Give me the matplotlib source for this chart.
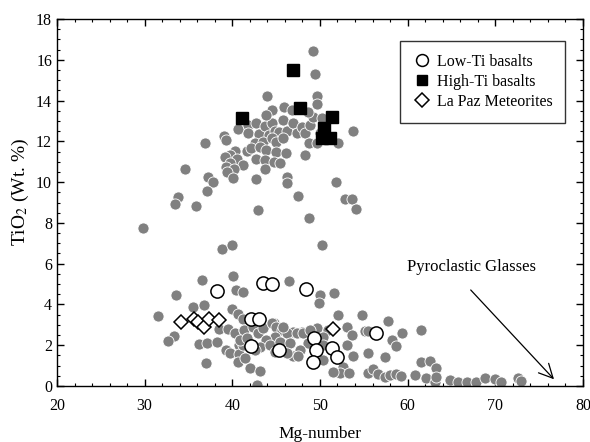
import matplotlib
matplotlib.use("Agg")
import matplotlib.pyplot as plt
from matplotlib.ticker import MultipleLocator

plt.rcParams['font.family'] = ['Liberation Serif', 'DejaVu Serif']
plt.rcParams['mathtext.fontset'] = 'stix'

# Gray background data (all lunar samples): Mg-number, TiO2
gray_mg = [
    49.23, 49.42, 43.91, 49.61, 49.61,
    36.87, 34.59, 37.25, 37.75, 37.14, 33.76, 33.45, 35.88, 29.84, 42.88, 48.73, 47.44,
    46.19, 46.19, 42.73, 51.81, 52.88, 53.67, 54.13, 53.79, 52.08, 48.28,
    39.04, 39.27, 40.67, 41.81, 41.81, 42.76, 43.07, 43.71, 44.21, 44.48, 44.85, 45.35,
    45.80, 46.19, 46.87, 47.40, 47.90, 48.28, 48.92, 49.15, 50.18, 48.77, 49.61, 49.99,
    44.48, 45.88, 46.76, 48.66, 43.90, 42.57, 43.52, 44.48, 45.04, 45.80, 41.62, 42.19,
    43.14, 43.90, 44.97, 46.07, 40.29, 39.72, 39.15, 40.48, 39.72, 41.24, 42.76, 43.71,
    44.74, 45.42, 39.27, 40.22, 39.34, 43.71, 40.10,
    38.85, 39.95, 36.49, 33.57, 40.10, 40.41, 41.17, 31.48, 35.47, 36.80, 39.91, 40.60,
    33.34, 32.62, 36.19, 37.10, 38.28, 39.23, 39.72, 40.79, 40.79, 40.67, 36.95, 38.47,
    39.53, 40.29, 41.32, 42.00,
    46.45, 49.99, 49.87, 43.14, 42.84, 44.78, 45.81, 46.95, 47.90, 49.61, 50.94,
    50.18, 51.63, 52.08, 54.82, 57.71, 59.31, 58.17, 58.66, 57.40, 53.79, 55.43, 55.12,
    55.50, 53.11, 53.60, 53.03, 52.65, 52.27, 53.34, 51.44, 50.37, 50.37,
    55.50, 56.07, 56.64, 57.40, 57.97, 58.73, 59.23,
    41.25, 41.33, 41.25, 41.44, 42.39, 42.96, 43.53, 44.48, 44.97, 45.62, 46.19, 44.86,
    43.83, 43.15, 44.29, 45.43, 46.57, 47.33, 48.09, 48.66, 47.71, 46.95, 47.52, 46.19,
    48.85, 49.61, 50.37, 44.86, 42.58, 45.81, 40.87, 41.63,
    61.51, 61.51, 62.53, 63.22, 60.82, 62.15, 63.10, 63.29,
    64.81, 65.77, 66.72, 67.78, 68.88, 69.95, 70.71, 72.61, 72.99,
]
gray_ti = [
    16.43, 15.32, 14.24, 14.24, 13.82,
    11.94, 10.63, 10.27, 10.02, 9.58, 9.26, 8.91, 8.83, 7.77, 8.63, 8.23, 9.32,
    10.24, 9.94, 10.14, 10.02, 9.16, 9.16, 8.67, 12.53, 11.94, 11.33,
    12.26, 12.07, 12.59, 12.80, 12.40, 12.92, 12.36, 12.75, 12.30, 12.89, 12.53, 12.48,
    13.05, 12.53, 12.92, 12.43, 12.72, 12.40, 12.80, 13.18, 13.13, 11.90, 11.90, 12.40,
    13.54, 13.67, 13.54, 13.46, 13.29, 11.90, 11.99, 12.15, 11.99, 12.15, 11.54, 11.66,
    11.74, 11.58, 11.50, 11.45, 11.54, 11.33, 11.25, 11.12, 10.96, 10.84, 11.12, 11.09,
    11.01, 10.92, 10.76, 10.63, 10.51, 10.63, 10.19,
    6.70, 6.90, 5.20, 4.46, 5.39, 4.71, 4.59, 3.43, 3.89, 3.99, 3.76, 3.51,
    2.45, 2.19, 2.06, 2.09, 2.16, 1.76, 1.60, 2.01, 1.57, 1.16, 1.14, 2.79,
    2.78, 2.61, 2.74, 0.88,
    5.17, 4.46, 4.05, 0.75, 0.05, 3.11, 2.91, 2.66, 2.66, 2.86, 2.75,
    6.91, 4.58, 3.48, 3.48, 3.20, 2.61, 2.25, 1.98, 1.44, 1.49, 1.63, 2.71,
    2.71, 2.91, 2.50, 2.01, 0.95, 0.65, 0.65, 0.70, 1.27, 2.42,
    0.62, 0.82, 0.59, 0.46, 0.54, 0.59, 0.49,
    3.27, 2.75, 2.01, 1.36, 2.91, 2.58, 2.83, 3.07, 2.88, 2.75, 2.58, 2.42,
    2.25, 1.93, 2.01, 2.17, 2.09, 2.58, 2.61, 2.09, 1.76, 1.47, 1.47, 1.60,
    2.75, 1.93, 2.01, 1.68, 1.76, 2.91, 2.25, 2.34,
    2.75, 1.19, 1.24, 0.90, 0.54, 0.38, 0.21, 0.46,
    0.29, 0.21, 0.21, 0.21, 0.38, 0.33, 0.18, 0.38, 0.26,
]

# Low-Ti basalts
lowti_mg = [43.45, 44.52, 48.40, 42.12, 43.04, 42.12, 45.36, 49.27, 49.57, 49.19,
            51.36, 51.97, 56.38, 38.20]
lowti_ti = [5.07, 4.98, 4.77, 3.27, 3.27, 1.96, 1.76, 2.34, 1.78, 1.19,
            1.88, 1.44, 2.58, 4.66]

# High-Ti basalts
highti_mg = [41.09, 46.98, 47.74, 51.43, 50.48, 50.29, 51.13]
highti_ti = [13.13, 15.50, 13.62, 13.18, 12.64, 12.15, 12.15]

# La Paz Meteorites
lapaz_mg = [34.14, 35.66, 36.11, 36.80, 37.37, 38.51, 51.51]
lapaz_ti = [3.15, 3.30, 3.15, 2.91, 3.28, 3.25, 2.78]

legend_labels = ["Low-Ti basalts", "High-Ti basalts", "La Paz Meteorites"]
annotation_text = "Pyroclastic Glasses"
arrow_start = (67.2, 4.71)
arrow_end = (76.7, 0.33)

fig = plt.figure(figsize=(5.9, 4.42), dpi=100)
ax = fig.add_axes([0.0966, 0.1267, 0.8914, 0.8303])

ax.plot(gray_mg, gray_ti, 'o', color='#808080', markersize=8.0,
        markeredgecolor='white', markeredgewidth=0.6, zorder=2)
ax.plot(lowti_mg, lowti_ti, 'o', markerfacecolor='white', markeredgecolor='black',
        markersize=9.5, markeredgewidth=1.1, zorder=3, label=legend_labels[0])
ax.plot(highti_mg, highti_ti, 's', color='black', markersize=8.5, zorder=3,
        label=legend_labels[1])
ax.plot(lapaz_mg, lapaz_ti, 'D', markerfacecolor='white', markeredgecolor='black',
        markersize=7.5, markeredgewidth=1.1, zorder=3, label=legend_labels[2])

ax.set_xlim(20, 80)
ax.set_ylim(0, 18)
ax.xaxis.set_major_locator(MultipleLocator(10))
ax.xaxis.set_minor_locator(MultipleLocator(2))
ax.yaxis.set_major_locator(MultipleLocator(2))
ax.yaxis.set_minor_locator(MultipleLocator(0.5))
ax.tick_params(which='both', direction='in', top=True, right=True, labelsize=11.5)
ax.tick_params(which='major', length=5, width=1)
ax.tick_params(which='minor', length=2.5, width=0.8)
ax.tick_params(axis='x', which='major', pad=9)
for s in ax.spines.values():
    s.set_linewidth(1.0)

ax.set_xlabel("Mg-number", fontsize=12.5, labelpad=8)
ax.set_ylabel("TiO$_2$ (Wt. %)", fontsize=14)
ax.yaxis.set_label_coords(-0.05, 0.53)

leg = ax.legend(loc='upper right', bbox_to_anchor=(0.966, 0.94), borderaxespad=0,
                fontsize=11.5, frameon=True, fancybox=False, edgecolor='black',
                handletextpad=0.3, handlelength=1.2, borderpad=0.8, labelspacing=0.25,
                markerscale=0.9)
leg.get_frame().set_linewidth(1.0)

ax.text(67.3, 5.84, annotation_text, fontsize=12, ha='center', va='center')
ax.annotate("", xy=arrow_end, xytext=arrow_start,
            arrowprops=dict(arrowstyle='->', color='black', lw=0.9,
                            mutation_scale=25, shrinkA=0, shrinkB=0))

fig.savefig("out.png", dpi=100)
